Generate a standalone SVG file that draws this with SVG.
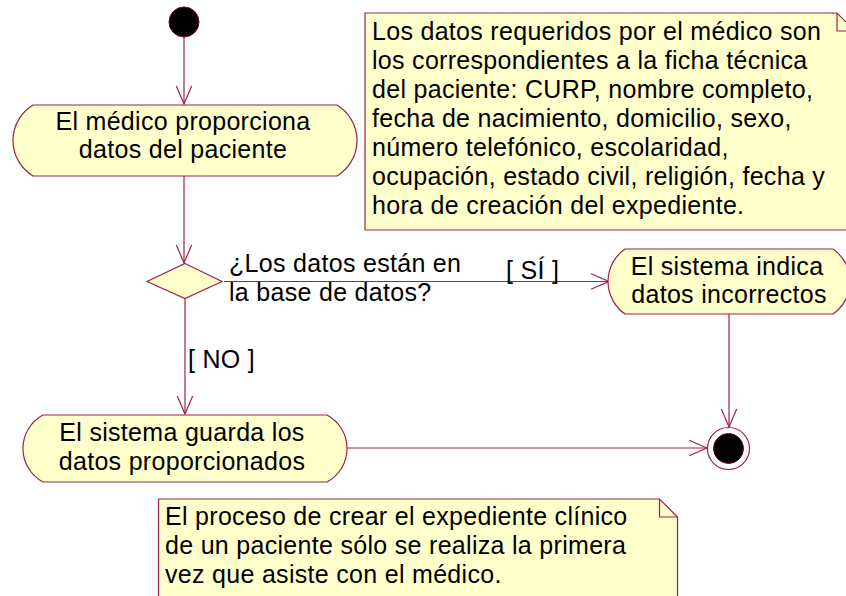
<svg xmlns="http://www.w3.org/2000/svg" width="846" height="596" viewBox="0 0 846 596">
<style>
.shape{fill:#FFFFCC;stroke:#A0204A;stroke-width:1.2}
.line{fill:none;stroke:#A0204A;stroke-width:1.2}
.t{font-family:"Liberation Sans",Arial,sans-serif;font-size:25px;letter-spacing:0.3px;fill:#000}
.c{text-anchor:middle}
</style>
<defs>
<marker id="arr" markerUnits="userSpaceOnUse" markerWidth="22" markerHeight="20" viewBox="-20 -10 22 20" refX="0" refY="0" orient="auto" overflow="visible">
<path d="M-18,-7.7 L0,0 L-18,7.7" fill="none" stroke="#A0204A" stroke-width="1.2"/>
</marker>
</defs>
<rect width="846" height="596" fill="#fff"/>

<g id="connectors">
<path class="line" d="M184,37 V104" marker-end="url(#arr)"/>
<path class="line" d="M184,176 V263" marker-end="url(#arr)"/>
<path class="line" d="M224,281.5 H609" marker-end="url(#arr)"/>
<path class="line" d="M185,299 V414" marker-end="url(#arr)"/>
<path class="line" d="M729,314 V427" marker-end="url(#arr)"/>
<path class="line" d="M333,448 H707" marker-end="url(#arr)"/>
<text class="t" x="229" y="272">¿Los datos están en</text>
<text class="t" x="229" y="301">la base de datos?</text>
<text class="t" x="506" y="279">[ SÍ ]</text>
<text class="t" x="188" y="368">[ NO ]</text>
</g>

<g id="start">
<circle cx="184" cy="22" r="15" fill="#000" stroke="#700028" stroke-width="1"/>
</g>

<g id="act1">
<path class="shape" d="M33,105 H337 A41.5,41.5 0 0 1 337,176 H33 A41.5,41.5 0 0 1 33,105 Z"/>
<text class="t c" x="183" y="130">El médico proporciona</text>
<text class="t c" x="183" y="158">datos del paciente</text>
</g>

<g id="decision">
<path class="shape" d="M185,263.5 L222,281.5 L185,298.5 L147,281.5 Z"/>
</g>

<g id="act2">
<path class="shape" d="M625,249 H833 A39.6,39.6 0 0 1 833,314 H625 A39.6,39.6 0 0 1 625,249 Z"/>
<text class="t c" x="727" y="275">El sistema indica</text>
<text class="t c" x="729" y="303">datos incorrectos</text>
</g>

<g id="act3">
<path class="shape" d="M43,415 H327 A38,38 0 0 1 327,482 H43 A38,38 0 0 1 43,415 Z"/>
<text class="t c" x="182" y="441">El sistema guarda los</text>
<text class="t c" x="182" y="470">datos proporcionados</text>
</g>

<g id="final">
<circle cx="728.5" cy="448.5" r="21" fill="#fff" stroke="#A0204A" stroke-width="1.2"/>
<circle cx="728.5" cy="448.5" r="15" fill="#000" stroke="#700028" stroke-width="1"/>
</g>

<g id="note1">
<path class="shape" d="M365,13 H837 L855,31 V230 H365 Z"/>
<path class="line" d="M837,13 V31 H855"/>
<text class="t" x="372" y="39.5">Los datos requeridos por el médico son</text>
<text class="t" x="372" y="68.5">los correspondientes a la ficha técnica</text>
<text class="t" x="372" y="97.5">del paciente: CURP, nombre completo,</text>
<text class="t" x="372" y="126.5">fecha de nacimiento, domicilio, sexo,</text>
<text class="t" x="372" y="155.5">número telefónico, escolaridad,</text>
<text class="t" x="372" y="184.5">ocupación, estado civil, religión, fecha y</text>
<text class="t" x="372" y="213.5">hora de creación del expediente.</text>
</g>

<g id="note2">
<path class="shape" d="M158.5,499 H659.5 L677.5,517 V610 H158.5 Z"/>
<path class="line" d="M659.5,499 V517 H677.5"/>
<text class="t" x="165" y="525">El proceso de crear el expediente clínico</text>
<text class="t" x="165" y="554">de un paciente sólo se realiza la primera</text>
<text class="t" x="165" y="583">vez que asiste con el médico.</text>
</g>
</svg>
